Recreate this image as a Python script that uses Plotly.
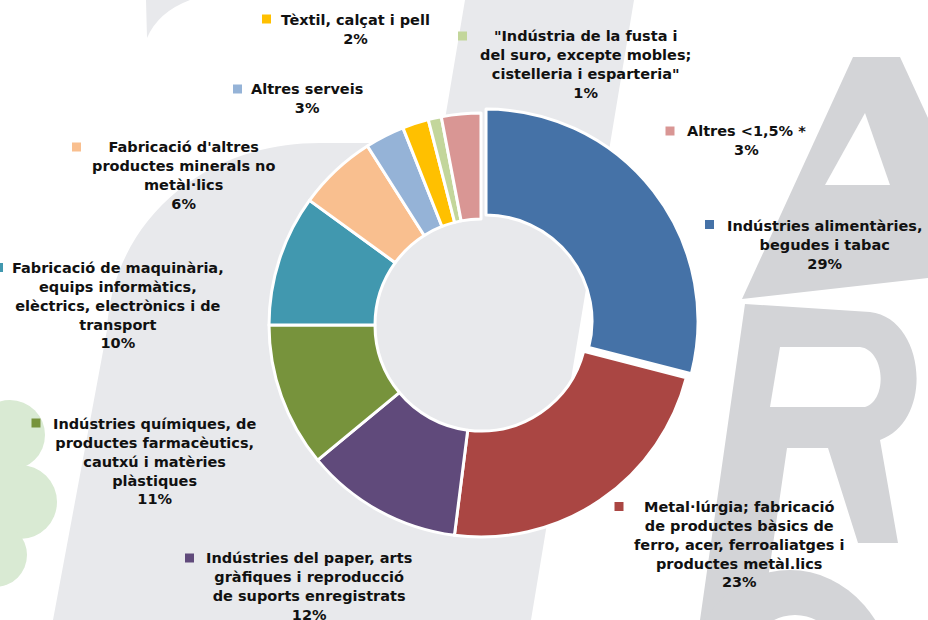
import plotly.graph_objects as go

# ---------------- data ----------------
sectors = [
    "Indústries alimentàries, begudes i tabac",
    "Metal·lúrgia; fabricació de productes bàsics de ferro, acer, ferroaliatges i productes metàl.lics",
    "Indústries del paper, arts gràfiques i reproducció de suports enregistrats",
    "Indústries químiques, de productes farmacèutics, cautxú i matèries plàstiques",
    "Fabricació de maquinària, equips informàtics, elèctrics, electrònics i de transport",
    "Fabricació d'altres productes minerals no metàl·lics",
    "Altres serveis",
    "Tèxtil, calçat i pell",
    "\"Indústria de la fusta i del suro, excepte mobles; cistelleria i esparteria\"",
    "Altres <1,5% *",
]
shares = [29, 23, 12, 11, 10, 6, 3, 2, 1, 3]
label_lines = [
    ["Indústries alimentàries,", "begudes i tabac"],
    ["Metal·lúrgia; fabricació", "de productes bàsics de", "ferro, acer, ferroaliatges i", "productes metàl.lics"],
    ["Indústries del paper, arts", "gràfiques i reproducció", "de suports enregistrats"],
    ["Indústries químiques, de", "productes farmacèutics,", "cautxú i matèries", "plàstiques"],
    ["Fabricació de maquinària,", "equips informàtics,", "elèctrics, electrònics i de", "transport"],
    ["Fabricació d'altres", "productes minerals no", "metàl·lics"],
    ["Altres serveis"],
    ["Tèxtil, calçat i pell"],
    ["\"Indústria de la fusta i", "del suro, excepte mobles;", "cistelleria i esparteria\""],
    ["Altres <1,5% *"],
]
colors = ["#4572a7", "#aa4643", "#604a7b", "#77933c", "#4198af",
          "#f9bf8f", "#95b3d7", "#ffc000", "#c3d69b", "#d99694"]

# label layout (pixels): text-block centre x, first-line centre y, key square centre
label_pos = [(824, 226), (739, 507), (309, 558), (154, 424), (118, 268),
             (183, 147), (307, 89), (355, 20), (585, 36), (746.5, 131)]
key_pos = [(709.5, 224.5), (619, 506.5), (189.5, 558), (36, 423), (-1.5, 267.5),
           (76.5, 147), (237.5, 89), (266.5, 19), (462.5, 36), (670, 131)]

W, H = 928, 620
FONT_SIZE = 14.5
LINE = FONT_SIZE * 1.3

# ---------------- figure ----------------
cx, cy, R = 481, 325, 212
pull_max = 0.03
half = R * (1 + pull_max)

fig = go.Figure()
fig.add_trace(go.Pie(
    labels=sectors, values=shares, sort=False, direction="clockwise",
    rotation=0, hole=0.5,
    pull=[pull_max] + [0] * (len(shares) - 1),
    marker=dict(colors=colors, line=dict(color="white", width=3)),
    textinfo="none", hoverinfo="label+percent", showlegend=False,
    domain=dict(x=[(cx - half) / W, (cx + half) / W],
                y=[(H - cy - half) / H, (H - cy + half) / H]),
))

LG = "#e8e9ec"
DG = "#d3d4d7"
GR = "#d9ead3"
shapes = [
    # light grey watermark stroke + bowl
    dict(type="path", path="M 465,0 L 634,0 L 531,620 L 53,620 L 107,330 C 112,225 200,143 320,143 L 441,143 Z",
         fillcolor=LG, line=dict(width=0), layer="below"),
    dict(type="path", path="M 147,38 L 146,0 L 190,0 Q 158,12 147,38 Z",
         fillcolor=LG, line=dict(width=0), layer="below"),
    # A
    dict(type="path", path="M 853,57 L 900,57 L 928,118 L 928,278 L 742,299 Z",
         fillcolor=DG, line=dict(width=0), layer="below"),
    dict(type="path", path="M 865,113 L 825,185 L 890,185 Z",
         fillcolor="white", line=dict(width=0), layer="below"),
    # R
    dict(type="path", path="M 745,304 L 870,312 C 925,318 935,420 880,440 L 898,543 L 858,543 L 828,448 L 787,448 L 762,620 L 700,620 Z",
         fillcolor=DG, line=dict(width=0), layer="below"),
    dict(type="path", path="M 780,347 L 860,347 C 885,350 888,400 865,407 L 770,407 Z",
         fillcolor="white", line=dict(width=0), layer="below"),
    # bottom letter
    dict(type="circle", x0=685, x1=895, y0=570, y1=810, fillcolor=DG, line=dict(width=0), layer="below"),
    dict(type="circle", x0=735, x1=855, y0=615, y1=775, fillcolor="white", line=dict(width=0), layer="below"),
    # green blobs
    dict(type="circle", x0=-25, x1=45, y0=400, y1=470, fillcolor=GR, line=dict(width=0), layer="below"),
    dict(type="circle", x0=-17, x1=57, y0=465, y1=539, fillcolor=GR, line=dict(width=0), layer="below"),
    dict(type="circle", x0=-37, x1=27, y0=523, y1=587, fillcolor=GR, line=dict(width=0), layer="below"),
    dict(type="rect", x0=-10, x1=15, y0=430, y1=560, fillcolor=GR, line=dict(width=0), layer="below"),
]

annotations = []
for i, (name_lines, v) in enumerate(zip(label_lines, shares)):
    lines = name_lines + [f"{v}%"]
    n = len(lines)
    x, y1 = label_pos[i]
    annotations.append(dict(
        x=x, y=y1 + (n - 1) * LINE / 2, xref="x", yref="y",
        text="<br>".join(lines), showarrow=False, align="center",
        xanchor="center", yanchor="middle",
        font=dict(family="DejaVu Sans", size=FONT_SIZE, color="#111111", weight="bold"),
    ))
    kx, ky = key_pos[i]
    shapes.append(dict(type="rect", x0=kx - 4.5, x1=kx + 4.5, y0=ky - 4.5, y1=ky + 4.5,
                       fillcolor=colors[i], line=dict(width=0), layer="above"))

fig.update_layout(
    width=W, height=H, margin=dict(l=0, r=0, t=0, b=0),
    paper_bgcolor="white", plot_bgcolor="rgba(0,0,0,0)",
    xaxis=dict(range=[0, W], visible=False, fixedrange=True),
    yaxis=dict(range=[H, 0], visible=False, fixedrange=True),
    shapes=shapes, annotations=annotations,
)

fig.write_html(
    "out.html",
    config={"displayModeBar": False},
    post_script="document.body.style.margin='0';document.body.style.padding='0';document.body.style.overflow='hidden';",
)
